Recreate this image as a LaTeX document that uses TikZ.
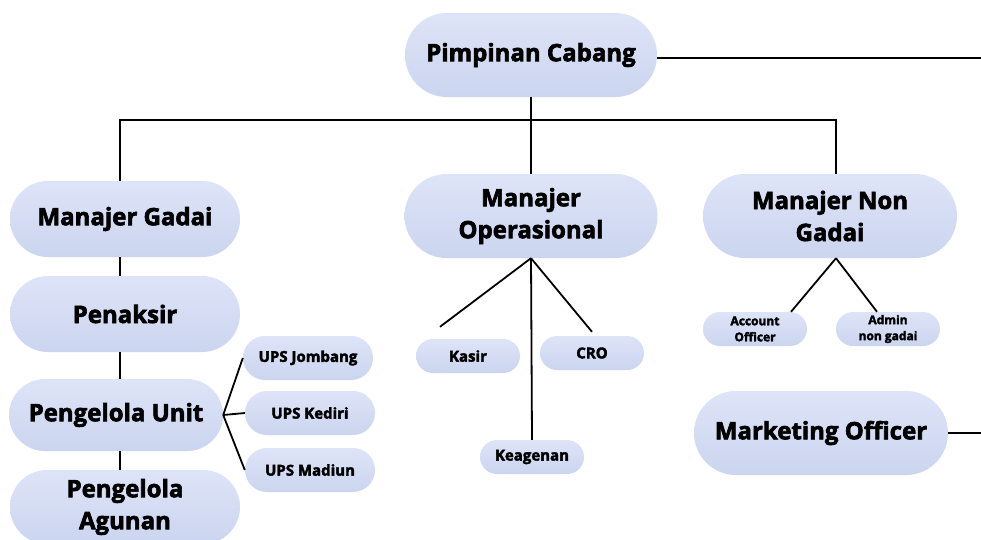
\documentclass[tikz,border=0pt]{standalone}
\usepackage{fontspec}
\setmainfont{Open Sans}[BoldFeatures={FakeBold=2.6}]
\usetikzlibrary{shapes.misc}
\definecolor{boxtop}{RGB}{222,228,248}
\definecolor{boxbot}{RGB}{203,213,239}
\tikzset{
  pill/.style={rounded rectangle, top color=boxtop, bottom color=boxbot,
    inner sep=0pt, align=center, font=\bfseries},
  big/.style={pill, font=\fontsize{24}{32}\selectfont\bfseries},
  small/.style={pill, minimum width=104pt, minimum height=34pt,
    font=\fontsize{15}{18}\selectfont\bfseries},
  tiny/.style={pill, minimum width=104pt, minimum height=34pt,
    font=\fontsize{12}{16}\selectfont\bfseries},
  link/.style={draw=black, line width=1.8pt}
}
\begin{document}
\begin{tikzpicture}[x=1pt,y=-1pt]
      \useasboundingbox[fill=white] (0,0) rectangle (981,539);
      \draw
        (531,55) node[big, minimum width=252pt, minimum height=84pt] (pc){Pimpinan Cabang}
        (125,219) node[big, minimum width=230pt, minimum height=76pt] (mg){Manajer Gadai}
        (125,314) node[big, minimum width=230pt, minimum height=76pt] (pk){Penaksir}
        (116,415) node[big, minimum width=214pt, minimum height=72pt] (pu){Pengelola Unit}
        (125,507) node[big, minimum width=230pt, minimum height=74pt] (pa){Pengelola\\Agunan}
        (308,358) node[small, minimum width=130pt, minimum height=44pt] (uj){UPS Jombang}
        (310,413) node[small, minimum width=130pt, minimum height=44pt] (uk){UPS Kediri}
        (310,470) node[small, minimum width=130pt, minimum height=44pt] (um){UPS Madiun}
        (531,216) node[big, minimum width=253pt, minimum height=84pt] (mo){Manajer\\Operasional}
        (468,356) node[small] (ks){Kasir}
        (592,353) node[small] (cr){CRO}
        (532,457) node[small] (ke){Keagenan}
        (830,216) node[big, minimum width=254pt, minimum height=84pt] (mn){Manajer Non\\Gadai}
        (755,329) node[tiny] (ao){Account\\Officer}
        (888,329) node[tiny] (ad){Admin\\non gadai}
        (821,433) node[big, minimum width=254pt, minimum height=84pt] (mk){Marketing Officer};
      \coordinate (bar) at (531,120);
      \coordinate (pcend) at (981,58);
      \coordinate (mkend) at (981,433);
      \begin{scope}[link]
        \draw ([yshift=-3pt]pc.east) -- (pcend);
        \draw (mk) -- (mkend);
        \draw (pc.south) -- (mo.north);
        \draw ([xshift=-5pt]mg.north) |- (bar) -| ([xshift=6pt]mn.north);
        \draw ([xshift=-5pt]mg.south) -- ([xshift=-5pt]pk.north);
        \draw ([xshift=-5pt]pk.south) -- ([xshift=4pt]pu.north);
        \draw ([xshift=4pt]pu.south) -- ([xshift=-5pt]pa.north);
        \draw (pu.east) -- (uj.west);
        \draw (pu.east) -- (uk.west);
        \draw (pu.east) -- (um.west);
        \draw (mo.south) -- ([xshift=-28pt,yshift=12pt]ks.north);
        \draw (mo.south) -- ([yshift=4pt]cr.north);
        \draw (mo.south) -- (ke.north);
        \draw ([xshift=6pt]mn.south) -- ([xshift=36pt]ao.north);
        \draw ([xshift=6pt]mn.south) -- ([xshift=-11pt]ad.north);
      \end{scope}
    \end{tikzpicture}
\end{document}
